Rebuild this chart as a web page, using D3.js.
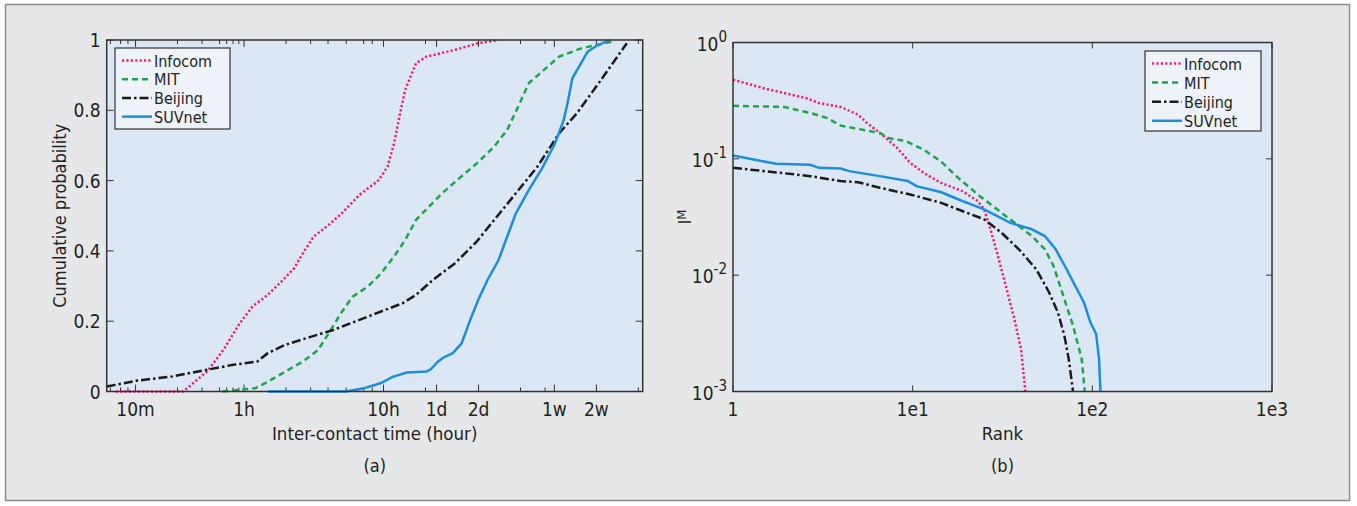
<!DOCTYPE html>
<html>
<head>
<meta charset="utf-8">
<script src="https://cdnjs.cloudflare.com/ajax/libs/d3/7.8.5/d3.min.js"></script>
<style>
  body { margin: 0; background: #fff; }
  svg text { font-family: "DejaVu Sans Condensed", "DejaVu Sans", sans-serif; fill: #231f20; }
</style>
</head>
<body>
<div id="chart"></div>
<script>
// ---- (a) inter-contact time CDF, x in hours ----
var infocomHours = [0.12, 0.366, 0.543, 0.724, 0.93, 1.15, 1.48, 1.91, 2.29, 2.64, 3.16, 4.05, 5.03, 6.71, 9.27, 10.7, 11.9, 13.3, 14.3, 17.1, 20.4, 32.6, 46.7, 66.8];
var infocomCdf   = [0, 0, 0.057, 0.123, 0.194, 0.242, 0.275, 0.318, 0.351, 0.393, 0.441, 0.474, 0.507, 0.559, 0.602, 0.64, 0.706, 0.801, 0.858, 0.934, 0.953, 0.972, 0.99, 1.0];

var mitHours = [0.698, 1.2, 1.48, 1.98, 2.64, 3.39, 4.05, 5.03, 6.02, 7.74, 9.6, 11.9, 14.3, 17.1, 21.2, 26.3, 35, 46.7, 62.2, 77.1, 92.3, 110, 137, 182, 261, 432];
var mitCdf   = [0, 0.009, 0.028, 0.057, 0.085, 0.118, 0.166, 0.227, 0.27, 0.299, 0.336, 0.384, 0.431, 0.488, 0.526, 0.564, 0.607, 0.649, 0.697, 0.744, 0.81, 0.877, 0.91, 0.953, 0.976, 0.995];

var beijingHours = [0.1035, 0.172, 0.306, 0.543, 0.836, 1.24, 1.48, 1.98, 3.04, 4.36, 6.24, 8.94, 13.7, 17.1, 22.7, 32.6, 46.7, 62.2, 89, 127, 182, 243, 349, 556];
var beijingCdf   = [0.014, 0.031, 0.043, 0.062, 0.076, 0.085, 0.109, 0.133, 0.156, 0.175, 0.199, 0.223, 0.251, 0.275, 0.318, 0.365, 0.427, 0.488, 0.564, 0.64, 0.735, 0.791, 0.877, 0.991];

var suvnetHours = [1.48, 5.41, 7.2, 9.6, 11.5, 14.7, 20.4, 21.9, 24.5, 27.3, 31.4, 36.3, 41.9, 48.3, 55.8, 66.8, 77.1, 89, 110, 137, 170, 196, 211, 226, 261, 291, 336, 417];
var suvnetCdf   = [0, 0, 0.009, 0.024, 0.041, 0.054, 0.057, 0.064, 0.085, 0.098, 0.109, 0.137, 0.204, 0.265, 0.318, 0.374, 0.441, 0.507, 0.573, 0.635, 0.706, 0.773, 0.829, 0.891, 0.934, 0.967, 0.983, 1.0];

var timeTicks  = [1 / 6, 1, 10, 24, 48, 168, 336];
var timeLabels = ["10m", "1h", "10h", "1d", "2d", "1w", "2w"];
var timeMinorTicks = [0.11, 0.13, 0.147, 0.333, 0.5, 0.667, 0.75, 0.833, 0.917, 2, 3, 4, 5.4, 7.2, 8.3, 20, 96, 144, 672];
var cdfTicks  = [0, 0.2, 0.4, 0.6, 0.8, 1];
var cdfLabels = ["0", "0.2", "0.4", "0.6", "0.8", "1"];

// ---- (b) rank vs I_M ----
var infocomRank = [1, 1.54, 2.55, 3.01, 3.97, 4.97, 5.55, 6.74, 8.2, 9.69, 11.5, 14.3, 18.9, 23, 25, 27.1, 29.5, 33, 36.8, 40.1, 42.4];
var infocomIM   = [0.479, 0.398, 0.333, 0.302, 0.279, 0.24, 0.204, 0.162, 0.124, 0.0924, 0.0759, 0.0623, 0.0528, 0.0434, 0.0368, 0.0248, 0.0156, 0.0081, 0.0042, 0.00232, 0.001];

var mitRank = [1, 1.93, 2.69, 3.36, 3.97, 5.25, 6.56, 7.33, 9.16, 11.5, 14.3, 17.9, 23.6, 29.5, 36.8, 46, 54.4, 60.8, 68, 78.1, 87.3, 90.8];
var mitIM   = [0.286, 0.279, 0.248, 0.224, 0.193, 0.178, 0.167, 0.151, 0.142, 0.12, 0.0955, 0.0687, 0.0479, 0.0368, 0.0283, 0.0217, 0.0167, 0.012, 0.0071, 0.00368, 0.0019, 0.001];

var beijingRank = [1, 1.82, 2.69, 3.97, 4.97, 6.56, 9.69, 14.3, 18.9, 25, 31.2, 39, 48.6, 57.5, 64.3, 69.9, 73.9, 78.1];
var beijingIM   = [0.0837, 0.0759, 0.071, 0.0644, 0.063, 0.0564, 0.0494, 0.042, 0.0356, 0.0302, 0.0232, 0.0167, 0.0113, 0.0071, 0.00479, 0.00302, 0.0019, 0.001];

var suvnetRank = [1, 1.73, 2.69, 3.01, 3.97, 4.44, 6.56, 9.4, 10.5, 14.3, 18.9, 25, 34.8, 46, 54.4, 62.5, 71.8, 80.3, 89.8, 97.5, 105, 109, 111];
var suvnetIM   = [0.107, 0.0906, 0.0889, 0.0837, 0.0826, 0.0784, 0.071, 0.0644, 0.0583, 0.0518, 0.0434, 0.0368, 0.0283, 0.0248, 0.0217, 0.0167, 0.0113, 0.0081, 0.00583, 0.00393, 0.00312, 0.0019, 0.001];

var rankTicks  = [1, 10, 100, 1000];
var rankLabels = ["1", "1e1", "1e2", "1e3"];
var imTicks  = [1, 0.1, 0.01, 0.001];
var imExps   = ["0", "-1", "-2", "-3"];

var seriesNames = ["Infocom", "MIT", "Beijing", "SUVnet"];

// styles per series
var styles = {
    Infocom: { color: "#ec1e79", dash: "2.2,2.2" },
    MIT:     { color: "#1ea54b", dash: "6,4" },
    Beijing: { color: "#1a1a1a", dash: "9,3,2.5,3" },
    SUVnet:  { color: "#1b8fd8", dash: null }
};

var W = 1357, H = 506;
var svg = d3.select("#chart").append("svg")
    .attr("width", W)
    .attr("height", H);

// figure frame
svg.append("rect")
    .attr("x", 5.5).attr("y", 4.5)
    .attr("width", 1344).attr("height", 496)
    .attr("fill", "#e6e7e8")
    .attr("stroke", "#8c8c8c")
    .attr("stroke-width", 1.5);

function zip(xs, ys) {
    return xs.map(function (v, i) { return [v, ys[i]]; });
}

function drawLegend(g, x0, y0, w, h, rowGap) {
    g.append("rect")
        .attr("x", x0).attr("y", y0)
        .attr("width", w).attr("height", h)
        .attr("fill", "#eef2f9")
        .attr("stroke", "#333")
        .attr("stroke-width", 1.2);
    seriesNames.forEach(function (name, i) {
        var yy = y0 + 12.5 + i * rowGap;
        g.append("line")
            .attr("x1", x0 + 7).attr("x2", x0 + 37)
            .attr("y1", yy).attr("y2", yy)
            .attr("stroke", styles[name].color)
            .attr("stroke-width", 2.5)
            .attr("stroke-dasharray", styles[name].dash);
        g.append("text")
            .attr("x", x0 + 39).attr("y", yy + 6)
            .attr("font-size", 16)
            .text(name);
    });
}

// ================= (a) =================
var A = { left: 106.7, right: 642.7, top: 40, bottom: 391.5 };

var xA = d3.scaleLog().domain([0.1035, 722]).range([A.left, A.right]);
var yA = d3.scaleLinear().domain([0, 1]).range([A.bottom, A.top]);

var gA = svg.append("g");
gA.append("rect")
    .attr("x", A.left).attr("y", A.top)
    .attr("width", A.right - A.left).attr("height", A.bottom - A.top)
    .attr("fill", "#dce7f5");

svg.append("clipPath").attr("id", "clipA")
    .append("rect")
    .attr("x", A.left).attr("y", A.top - 2)
    .attr("width", A.right - A.left).attr("height", A.bottom - A.top + 4);

var lineA = d3.line()
    .x(function (d) { return xA(d[0]); })
    .y(function (d) { return yA(d[1]); });

var dataA = {
    Infocom: zip(infocomHours, infocomCdf),
    MIT: zip(mitHours, mitCdf),
    Beijing: zip(beijingHours, beijingCdf),
    SUVnet: zip(suvnetHours, suvnetCdf)
};

// x ticks (inward, top and bottom)
timeMinorTicks.forEach(function (t) {
    [[A.bottom, -4], [A.top, 4]].forEach(function (p) {
        gA.append("line")
            .attr("x1", xA(t)).attr("x2", xA(t))
            .attr("y1", p[0]).attr("y2", p[0] + p[1])
            .attr("stroke", "#333").attr("stroke-width", 1);
    });
});
timeTicks.forEach(function (t, i) {
    [[A.bottom, -7], [A.top, 7]].forEach(function (p) {
        gA.append("line")
            .attr("x1", xA(t)).attr("x2", xA(t))
            .attr("y1", p[0]).attr("y2", p[0] + p[1])
            .attr("stroke", "#333").attr("stroke-width", 1);
    });
    gA.append("text")
        .attr("x", xA(t)).attr("y", A.bottom + 24)
        .attr("text-anchor", "middle")
        .attr("font-size", 19)
        .text(timeLabels[i]);
});

// y ticks
cdfTicks.forEach(function (t, i) {
    [[A.left, 7], [A.right, -7]].forEach(function (p) {
        gA.append("line")
            .attr("x1", p[0]).attr("x2", p[0] + p[1])
            .attr("y1", yA(t)).attr("y2", yA(t))
            .attr("stroke", "#333").attr("stroke-width", 1);
    });
    gA.append("text")
        .attr("x", A.left - 6).attr("y", yA(t) + 7)
        .attr("text-anchor", "end")
        .attr("font-size", 19)
        .text(cdfLabels[i]);
});

seriesNames.forEach(function (name) {
    gA.append("path")
        .datum(dataA[name])
        .attr("clip-path", "url(#clipA)")
        .attr("fill", "none")
        .attr("stroke", styles[name].color)
        .attr("stroke-width", 2.5)
        .attr("stroke-dasharray", styles[name].dash)
        .attr("d", lineA);
});

gA.append("rect")
    .attr("x", A.left).attr("y", A.top)
    .attr("width", A.right - A.left).attr("height", A.bottom - A.top)
    .attr("fill", "none").attr("stroke", "#333").attr("stroke-width", 1.5);

drawLegend(gA, 115, 48, 115, 81, 18.7);

gA.append("text")
    .attr("transform", "translate(66," + ((A.top + A.bottom) / 2) + ") rotate(-90)")
    .attr("text-anchor", "middle")
    .attr("font-size", 18)
    .text("Cumulative probability");
gA.append("text")
    .attr("x", (A.left + A.right) / 2).attr("y", 440)
    .attr("text-anchor", "middle")
    .attr("font-size", 18.5)
    .text("Inter-contact time (hour)");
gA.append("text")
    .attr("x", (A.left + A.right) / 2).attr("y", 472)
    .attr("text-anchor", "middle")
    .attr("font-size", 18)
    .text("(a)");

// ================= (b) =================
var B = { left: 733, right: 1272, top: 42.5, bottom: 391.5 };

var xB = d3.scaleLog().domain([1, 1000]).range([B.left, B.right]);
var yB = d3.scaleLog().domain([0.001, 1]).range([B.bottom, B.top]);

var gB = svg.append("g");
gB.append("rect")
    .attr("x", B.left).attr("y", B.top)
    .attr("width", B.right - B.left).attr("height", B.bottom - B.top)
    .attr("fill", "#dce7f5");

svg.append("clipPath").attr("id", "clipB")
    .append("rect")
    .attr("x", B.left).attr("y", B.top)
    .attr("width", B.right - B.left).attr("height", B.bottom - B.top);

var lineB = d3.line()
    .x(function (d) { return xB(d[0]); })
    .y(function (d) { return yB(d[1]); });

var dataB = {
    Infocom: zip(infocomRank, infocomIM),
    MIT: zip(mitRank, mitIM),
    Beijing: zip(beijingRank, beijingIM),
    SUVnet: zip(suvnetRank, suvnetIM)
};

rankTicks.forEach(function (t, i) {
    [[B.bottom, -6], [B.top, 6]].forEach(function (p) {
        gB.append("line")
            .attr("x1", xB(t)).attr("x2", xB(t))
            .attr("y1", p[0]).attr("y2", p[0] + p[1])
            .attr("stroke", "#333").attr("stroke-width", 1);
    });
    gB.append("text")
        .attr("x", xB(t)).attr("y", B.bottom + 24)
        .attr("text-anchor", "middle")
        .attr("font-size", 19)
        .text(rankLabels[i]);
});

imTicks.forEach(function (t, i) {
    [[B.left, 6], [B.right, -6]].forEach(function (p) {
        gB.append("line")
            .attr("x1", p[0]).attr("x2", p[0] + p[1])
            .attr("y1", yB(t)).attr("y2", yB(t))
            .attr("stroke", "#333").attr("stroke-width", 1);
    });
    var lab = gB.append("text")
        .attr("x", B.left - 6).attr("y", yB(t) + 8)
        .attr("text-anchor", "end")
        .attr("font-size", 19);
    lab.append("tspan").text("10");
    lab.append("tspan").attr("dy", -9).attr("font-size", 15).text(imExps[i]);
});

seriesNames.forEach(function (name) {
    gB.append("path")
        .datum(dataB[name])
        .attr("clip-path", "url(#clipB)")
        .attr("fill", "none")
        .attr("stroke", styles[name].color)
        .attr("stroke-width", 2.5)
        .attr("stroke-dasharray", styles[name].dash)
        .attr("d", lineB);
});

gB.append("rect")
    .attr("x", B.left).attr("y", B.top)
    .attr("width", B.right - B.left).attr("height", B.bottom - B.top)
    .attr("fill", "none").attr("stroke", "#333").attr("stroke-width", 1.5);

drawLegend(gB, 1145, 51, 116, 80, 19.1);

var yl = gB.append("text")
    .attr("transform", "translate(691," + ((B.top + B.bottom) / 2) + ") rotate(-90)")
    .attr("text-anchor", "middle")
    .attr("font-size", 17);
yl.append("tspan").text("I");
yl.append("tspan").attr("dy", -5).attr("font-size", 13).text("M");

gB.append("text")
    .attr("x", (B.left + B.right) / 2).attr("y", 440)
    .attr("text-anchor", "middle")
    .attr("font-size", 18.5)
    .text("Rank");
gB.append("text")
    .attr("x", (B.left + B.right) / 2).attr("y", 472)
    .attr("text-anchor", "middle")
    .attr("font-size", 18)
    .text("(b)");
</script>
</body>
</html>
